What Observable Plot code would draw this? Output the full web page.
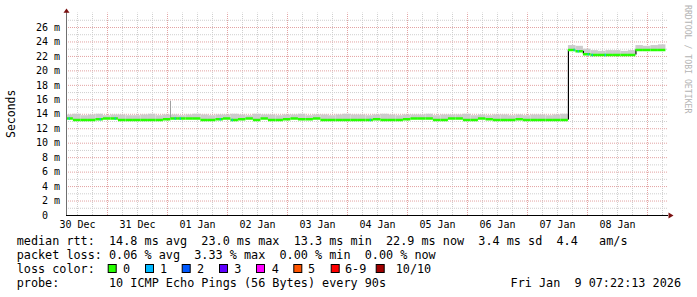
<!DOCTYPE html>
<html><head><meta charset="utf-8">
<script src="https://cdn.jsdelivr.net/npm/d3@7"></script>
<script src="https://cdn.jsdelivr.net/npm/@observablehq/plot@0.6"></script>
<style>
html,body{margin:0;padding:0;background:#fff;}
#wrap{position:relative;width:697px;height:297px;overflow:hidden;background:#fff;}
#chart{position:absolute;left:0;top:0;}
#legend{position:absolute;left:0;top:232px;}
svg text{font-family:"DejaVu Sans Mono",monospace;}
</style></head><body>
<div id="wrap"><div id="chart"></div><div id="legend"></div></div>
<script>
// ---------------- data ----------------
const startTime = Date.UTC(2025, 11, 30, 7, 22, 13);   // graph start (10 days before now)
const stepHours = 3;                                    // each value covers 3 hours
const medianMs = [
  13.4,13.2,13.2,13.2,13.3,13.4,13.4,13.2,13.2,13.2,
  13.2,13.2,13.2,13.3,13.4,13.4,13.4,13.4,13.2,13.2,
  13.3,13.4,13.2,13.3,13.4,13.2,13.4,13.2,13.2,13.3,
  13.4,13.3,13.3,13.4,13.2,13.2,13.2,13.2,13.2,13.2,
  13.2,13.3,13.2,13.2,13.2,13.3,13.4,13.4,13.4,13.2,
  13.2,13.4,13.4,13.2,13.2,13.4,13.3,13.2,13.2,13.2,
  13.3,13.2,13.2,13.2,13.2,13.2,13.2,
  22.9,22.7,22.3,22.2,22.2,22.2,22.2,22.2,22.2,22.9,22.9,22.9,22.9
];
const smokeTopMs = [
  13.9,14.0,13.8,13.9,14.0,13.8,13.9,13.9,13.8,13.8,
  13.9,14.0,13.8,13.9,13.9,13.8,13.9,14.0,13.9,13.8,
  13.9,13.9,14.0,13.9,13.8,14.0,13.9,13.9,13.8,13.9,
  13.9,14.0,13.8,13.9,13.9,13.8,13.9,14.0,13.9,13.9,
  13.8,13.9,14.0,13.9,13.8,13.9,13.9,13.9,14.0,13.8,
  13.9,13.9,13.9,14.0,13.8,13.9,13.8,13.9,13.9,13.8,
  13.9,13.8,13.9,13.9,13.8,13.9,14.0,
  23.5,23.4,23.0,22.8,22.7,22.8,22.8,22.7,22.8,23.5,23.4,23.5,23.6
];
// single-step (24 min) moments with 1/10 packets lost
const lossEventTimes = [
  "2025-12-30T08:41Z","2025-12-30T21:05Z","2025-12-31T03:05Z","2026-01-01T03:05Z",
  "2026-01-01T05:05Z","2026-01-01T21:05Z","2026-01-02T01:53Z","2026-01-04T09:05Z",
  "2026-01-07T18:41Z","2026-01-07T20:17Z","2026-01-08T00:17Z","2026-01-08T01:53Z",
  "2026-01-08T07:05Z"
];
const spikeTimes = ["2026-01-01T01:12Z"];
const spikeValues = [15.8];
const yTicks = [0,2,4,6,8,10,12,14,16,18,20,22,24,26];
const lossLabels = ["0","1","2","3","4","5","6-9","10/10"];
const lossColors = ["#26ff00","#00b8ff","#0059ff","#5e00ff","#ff00ff","#ff5500","#ff0000","#a00000"];
const rttStats = [14.8, 23.0, 13.3, 22.9];   // avg max min now (ms)
const rttSd = 3.4, rttAmps = 4.4;
const lossStats = [0.06, 3.33, 0.00, 0.00]; // avg max min now (%)
const probeText = "10 ICMP Echo Pings (56 Bytes) every 90s";
const stampText = "Fri Jan  9 07:22:13 2026";

// ---------------- build ----------------
const stepMs = stepHours * 3600e3;
const rows = medianMs.map((m, i) => ({
  t1: new Date(startTime + i * stepMs),
  t2: new Date(startTime + (i + 1) * stepMs),
  m, hi: smokeTopMs[i]
}));
// vertical connectors where the median changes noticeably
const jumps = rows.slice(1).map((r, i) => ({t: r.t1, a: rows[i].m, b: r.m}))
  .filter(d => Math.abs(d.b - d.a) > 0.3);
const lossEvents = lossEventTimes.map(s => {
  const t = new Date(s);
  const i = Math.min(medianMs.length - 1, Math.floor((t - startTime) / stepMs));
  return {t1: t, t2: new Date(+t + 24 * 60e3), m: medianMs[i]};
});
const spikes = spikeTimes.map((s, i) => ({t: new Date(s), v: spikeValues[i]}));
const xDomain = [new Date(Date.UTC(2025, 11, 30, 7, 36)), new Date(Date.UTC(2026, 0, 9, 8, 24))];
const minorX = d3.utcHour.every(6).range(xDomain[0], xDomain[1]).filter(d => d.getUTCHours() !== 0);
const majorX = d3.utcDay.range(xDomain[0], xDomain[1]);
const labelX = d3.utcDay.range(d3.utcDay.floor(xDomain[0]), xDomain[1]).map(d => d3.utcHour.offset(d, 12))
  .filter(d => d >= xDomain[0] && d <= xDomain[1]);
const minorY = d3.range(1, 28, 2);
const majorY = d3.range(2, 28, 2);

const chart = Plot.plot({
  width: 697, height: 232,
  marginLeft: 66, marginRight: 29, marginTop: 215 - 28 * 188 / 26, marginBottom: 17,
  x: {type: "utc", domain: xDomain},
  y: {domain: [0, 28]},
  style: {fontFamily: "'DejaVu Sans Mono', monospace", fontSize: "10px", background: "#fff", overflow: "visible", color: "#000"},
  marks: [
    Plot.ruleY(minorY, {stroke: "#cfcfcf", strokeDasharray: "1,1"}),
    Plot.ruleX(minorX, {y1: 0, y2: 28, stroke: "#cfcfcf", strokeDasharray: "1,1"}),
    Plot.ruleY(majorY, {stroke: "#e3a3a3", strokeDasharray: "1,1"}),
    Plot.ruleX(majorX, {y1: 0, y2: 28, stroke: "#e3a3a3", strokeDasharray: "1,1"}),
    Plot.rect(rows, {x1: "t1", x2: "t2", y1: "m", y2: "hi", fill: "#cccccc", clip: true}),
    Plot.ruleX(spikes, {x: "t", y1: 13.4, y2: "v", stroke: "#a0a0a0"}),
    Plot.ruleX(jumps, {x: "t", y1: "a", y2: "b", stroke: "#000", strokeWidth: 1.2}),
    Plot.ruleY(rows, {x1: "t1", x2: "t2", y: "m", stroke: lossColors[0], strokeWidth: 2.5, clip: true}),
    Plot.ruleY(lossEvents, {x1: "t1", x2: "t2", y: "m", stroke: lossColors[1], strokeWidth: 2.5, clip: true}),
    Plot.ruleY([0], {stroke: "#000"}),
    Plot.ruleX([xDomain[0]], {y1: 0, y2: 28.4, stroke: "#707070"}),
    Plot.axisX({ticks: labelX, tickSize: 0, tickPadding: 5.5, tickFormat: d3.utcFormat("%d %b"), label: null, fill: "#000"}),
    Plot.axisY({ticks: yTicks, tickSize: 0, tickPadding: 6.5, label: null, fill: "#000",
      tickFormat: d => d === 0 ? "0\u00a0\u00a0" : d + " m"})
  ]
});
document.getElementById("chart").appendChild(chart);

// axis arrows, y title, watermark
const svg = d3.select(chart);
const sx = chart.scale("x"), sy = chart.scale("y");
const ax = sx.apply(xDomain[0]) + 0.5, ay = sy.apply(28) + 0.5;
const bx = sx.apply(xDomain[1]) + 0.5, by = sy.apply(0) + 0.5;
svg.append("path").attr("d", `M${ax - 3},${ay - 0.3}L${ax + 3},${ay - 0.3}L${ax},${ay - 4.5}Z`).attr("fill", "#7a1010");
svg.append("path").attr("d", `M${bx},${by - 3}L${bx},${by + 3}L${bx + 5},${by}Z`).attr("fill", "#7a1010");
svg.append("text").attr("transform", `translate(15,${(sy.apply(0) + sy.apply(28)) / 2}) rotate(-90)`)
  .attr("text-anchor", "middle").style("font-size", "11.5px").attr("fill", "#000").text("Seconds");
svg.append("text").attr("transform", `translate(685.3,5) rotate(90)`)
  .attr("text-anchor", "start").style("font-size", "8.2px").attr("fill", "#b4b4b4").text("RRDTOOL / TOBI OETIKER");

// ---------------- legend below ----------------
const lg = d3.select("#legend").append("svg").attr("width", 697).attr("height", 65)
  .style("font-size", "11.8px").style("font-family", "'DejaVu Sans Mono', monospace");
const f1 = v => v.toFixed(1), f2 = v => v.toFixed(2);
const line1 = `median rtt:  ${f1(rttStats[0])} ms avg  ${f1(rttStats[1])} ms max  ${f1(rttStats[2])} ms min  ${f1(rttStats[3])} ms now  ${f1(rttSd)} ms sd  ${f1(rttAmps)}   am/s`;
const line2 = `packet loss: ${f2(lossStats[0])} % avg  ${f2(lossStats[1])} % max  ${f2(lossStats[2])} % min  ${f2(lossStats[3])} % now`;
const line4 = `probe:       ${probeText}`;
const tx = 16.7;
[[line1, 13.3], [line2, 27], ["loss color:", 41], [line4, 55]].forEach(([s, y]) =>
  lg.append("text").attr("x", tx).attr("y", y).attr("xml:space", "preserve").style("white-space", "pre").text(s));
lg.append("text").attr("x", 681).attr("y", 55).attr("text-anchor", "end").style("white-space", "pre").text(stampText);
const boxX = [107.7, 145, 181.7, 219, 256, 293.3, 330.7, 375.7];
const labOff = [15.3, 15, 15.3, 15.3, 15.7, 14.7, 14.3, 20];
lossLabels.forEach((l, i) => {
  lg.append("rect").attr("x", boxX[i] + 0.5).attr("y", 32.5).attr("width", 8).attr("height", 8)
    .attr("fill", lossColors[i]).attr("stroke", "#000").attr("stroke-width", 1);
  lg.append("text").attr("x", boxX[i] + labOff[i]).attr("y", 41).text(l);
});
</script></body></html>
